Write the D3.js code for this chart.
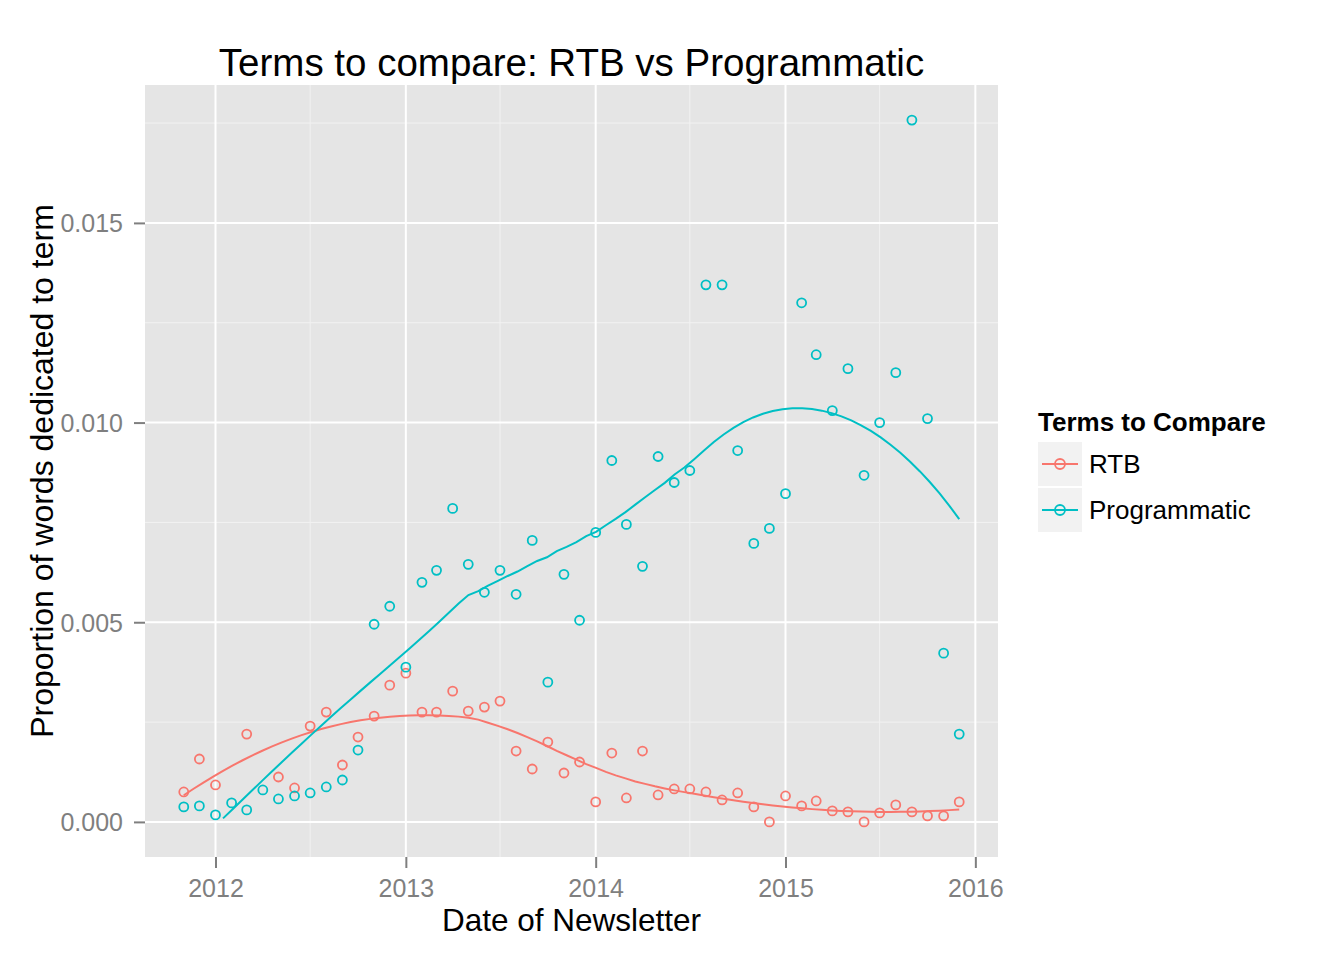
<!DOCTYPE html>
<html lang="en">
	<head>
		<meta charset="utf-8">
		<title>Terms to compare: RTB vs Programmatic</title>
		<script type="text/javascript" src="https://d3js.org/d3.v7.min.js"></script>
		<style type="text/css">
			body {
				margin: 0;
				background-color: #fff;
			}
			svg {
				font-family: "Liberation Sans", Arial, sans-serif;
			}
		</style>
	</head>
	<body>
		<script type="text/javascript">

			// monthly newsletter dates, Nov 2011 - Dec 2015
			var months = ["2011-11","2011-12","2012-01","2012-02","2012-03","2012-04","2012-05","2012-06","2012-07","2012-08","2012-09","2012-10",
				"2012-11","2012-12","2013-01","2013-02","2013-03","2013-04","2013-05","2013-06","2013-07","2013-08","2013-09","2013-10",
				"2013-11","2013-12","2014-01","2014-02","2014-03","2014-04","2014-05","2014-06","2014-07","2014-08","2014-09","2014-10",
				"2014-11","2014-12","2015-01","2015-02","2015-03","2015-04","2015-05","2015-06","2015-07","2015-08","2015-09","2015-10",
				"2015-11","2015-12"];

			var rtb = [0.00075,0.001575,0.000925,null,0.0022,null,0.001125,0.00085,0.0024,0.00275,0.001425,0.002125,
				0.00265,0.003425,0.003725,0.00275,0.00275,0.003275,0.002775,0.002875,0.003025,0.001775,0.001325,0.002,
				0.001225,0.0015,0.0005,0.001725,0.0006,0.001775,0.000675,0.000825,0.000825,0.00075,0.00055,0.000725,
				0.000375,0.0,0.00065,0.0004,0.000525,0.000275,0.00025,0.0,0.000225,0.000425,0.00025,0.00015,
				0.00015,0.0005];

			var programmatic = [0.000375,0.0004,0.000175,0.000475,0.0003,0.0008,0.000575,0.00065,0.000725,0.000875,0.00105,0.0018,
				0.00495,0.0054,0.003875,0.006,0.0063,0.00785,0.00645,0.00575,0.0063,0.0057,0.00705,0.0035,
				0.0062,0.00505,0.00725,0.00905,0.00745,0.0064,0.00915,0.0085,0.0088,0.01345,0.01345,0.0093,
				0.006975,0.00735,0.00822,0.013,0.0117,0.0103,0.01135,0.00868,0.01,0.01125,0.017575,0.0101,
				0.004225,0.0022];

			var seriesNames = ["RTB", "Programmatic"];
			var seriesColors = ["#F8766D", "#00BFC4"];
			var yTicks = [0, 0.005, 0.010, 0.015];
			var xTicks = ["2012", "2013", "2014", "2015", "2016"];

			var parseMonth = d3.timeParse("%Y-%m");

			var series = [rtb, programmatic].map(function(vals, k) {
				return {
					name: seriesNames[k],
					color: seriesColors[k],
					points: vals.map(function(v, i) {
						return { date: parseMonth(months[i]), value: v };
					}).filter(function(d) { return d.value !== null; })
				};
			});

			// loess (degree 2, span 0.75, tricube weights) like geom_smooth
			function loess(xs, ys, x0, span) {
				var n = xs.length;
				var q = Math.floor(n * span);
				var dists = xs.map(function(x) { return Math.abs(x - x0); });
				var dmax = dists.slice().sort(function(a, b) { return a - b; })[q - 1];
				var s = [0, 0, 0, 0, 0], t = [0, 0, 0];
				for (var i = 0; i < n; i++) {
					var u = dists[i] / dmax;
					if (u >= 1) continue;
					var w = Math.pow(1 - u * u * u, 3);
					var dx = xs[i] - x0;
					var p = 1;
					for (var k = 0; k < 5; k++) {
						s[k] += w * p;
						if (k < 3) t[k] += w * p * ys[i];
						p *= dx;
					}
				}
				// solve 3x3 normal equations, intercept is the fitted value
				var m = [[s[0], s[1], s[2], t[0]], [s[1], s[2], s[3], t[1]], [s[2], s[3], s[4], t[2]]];
				for (var c = 0; c < 3; c++) {
					for (var r = c + 1; r < 3; r++) {
						var f = m[r][c] / m[c][c];
						for (var j = c; j < 4; j++) m[r][j] -= f * m[c][j];
					}
				}
				var b = [0, 0, 0];
				for (var r2 = 2; r2 >= 0; r2--) {
					var acc = m[r2][3];
					for (var j2 = r2 + 1; j2 < 3; j2++) acc -= m[r2][j2] * b[j2];
					b[r2] = acc / m[r2][r2];
				}
				return b[0];
			}

			var svg = d3.select("body")
						.append("svg")
						.attr("width", 1344)
						.attr("height", 960);

			var panel = { left: 145, right: 998, top: 85, bottom: 857 };

			var allDates = series[0].points.concat(series[1].points).map(function(d) { return d.date; });
			var dExt = d3.extent(allDates);
			var dPad = (dExt[1] - dExt[0]) * 0.05;
			var x = d3.scaleTime()
						.domain([new Date(+dExt[0] - dPad), new Date(+dExt[1] + dPad)])
						.range([panel.left, panel.right]);

			var yMax = d3.max(series, function(s) { return d3.max(s.points, function(d) { return d.value; }); });
			var y = d3.scaleLinear()
						.domain([0 - yMax * 0.05, yMax * 1.05])
						.range([panel.bottom, panel.top]);

			// panel background and grid
			svg.append("rect")
				.attr("x", panel.left)
				.attr("y", panel.top)
				.attr("width", panel.right - panel.left)
				.attr("height", panel.bottom - panel.top)
				.attr("fill", "#E5E5E5");

			var grid = svg.append("g");
			var minorY = yTicks.map(function(t) { return t + 0.0025; }).filter(function(v) { return v < y.domain()[1]; });
			var xMajor = xTicks.map(function(t) { return d3.timeParse("%Y")(t); });
			var xMinor = xTicks.slice(0, -1).map(function(t) { return d3.timeParse("%Y-%m")(t + "-07"); });

			grid.selectAll(".ymin").data(minorY).enter().append("line")
				.attr("x1", panel.left).attr("x2", panel.right)
				.attr("y1", function(d) { return y(d); }).attr("y2", function(d) { return y(d); })
				.attr("stroke", "#F2F2F2").attr("stroke-width", 1);
			grid.selectAll(".xmin").data(xMinor).enter().append("line")
				.attr("y1", panel.top).attr("y2", panel.bottom)
				.attr("x1", function(d) { return x(d); }).attr("x2", function(d) { return x(d); })
				.attr("stroke", "#F2F2F2").attr("stroke-width", 1);
			grid.selectAll(".ymaj").data(yTicks).enter().append("line")
				.attr("x1", panel.left).attr("x2", panel.right)
				.attr("y1", function(d) { return y(d); }).attr("y2", function(d) { return y(d); })
				.attr("stroke", "#fff").attr("stroke-width", 2);
			grid.selectAll(".xmaj").data(xMajor).enter().append("line")
				.attr("y1", panel.top).attr("y2", panel.bottom)
				.attr("x1", function(d) { return x(d); }).attr("x2", function(d) { return x(d); })
				.attr("stroke", "#fff").attr("stroke-width", 2);

			// axes
			var xAxis = d3.axisBottom(x)
						.tickValues(xMajor)
						.tickFormat(d3.timeFormat("%Y"))
						.tickSize(11)
						.tickPadding(11);
			var yAxis = d3.axisLeft(y)
						.tickValues(yTicks)
						.tickFormat(d3.format(".3f"))
						.tickSize(11)
						.tickPadding(11);

			var gx = svg.append("g")
						.attr("transform", "translate(0," + panel.bottom + ")")
						.call(xAxis);
			var gy = svg.append("g")
						.attr("transform", "translate(" + panel.left + ",0)")
						.call(yAxis);

			[gx, gy].forEach(function(g) {
				g.select(".domain").remove();
				g.selectAll(".tick line").attr("stroke", "#7F7F7F").attr("stroke-width", 2);
				g.selectAll(".tick text")
					.attr("fill", "#7F7F7F")
					.style("font-size", "25px")
					.style("font-family", "'Liberation Sans', Arial, sans-serif");
			});
			gy.selectAll(".tick text").attr("dy", "0.36em");

			// smoothers
			var line = d3.line()
						.x(function(d) { return x(d.date); })
						.y(function(d) { return y(d.value); });

			series.forEach(function(s) {
				var xs = s.points.map(function(d) { return +d.date; });
				var ys = s.points.map(function(d) { return d.value; });
				var lo = d3.min(xs), hi = d3.max(xs);
				var fit = d3.range(80).map(function(i) {
					var xv = lo + (hi - lo) * i / 79;
					return { date: new Date(xv), value: loess(xs, ys, xv, 0.75) };
				}).filter(function(d) { return d.value >= 0; });

				svg.append("path")
					.datum(fit)
					.attr("d", line)
					.attr("fill", "none")
					.attr("stroke", s.color)
					.attr("stroke-width", 2);
			});

			// points
			series.forEach(function(s) {
				svg.append("g")
					.selectAll("circle")
					.data(s.points)
					.enter()
					.append("circle")
					.attr("cx", function(d) { return x(d.date); })
					.attr("cy", function(d) { return y(d.value); })
					.attr("r", 4.5)
					.attr("fill", "none")
					.attr("stroke", s.color)
					.attr("stroke-width", 1.8);
			});

			// titles
			svg.append("text")
				.attr("x", (panel.left + panel.right) / 2)
				.attr("y", 76)
				.attr("text-anchor", "middle")
				.style("font-size", "38.5px")
				.text("Terms to compare: RTB vs Programmatic");

			svg.append("text")
				.attr("x", (panel.left + panel.right) / 2)
				.attr("y", 931)
				.attr("text-anchor", "middle")
				.style("font-size", "31.5px")
				.text("Date of Newsletter");

			svg.append("text")
				.attr("transform", "translate(53," + (panel.top + panel.bottom) / 2 + ") rotate(-90)")
				.attr("text-anchor", "middle")
				.style("font-size", "32px")
				.text("Proportion of words dedicated to term");

			// legend
			var legend = svg.append("g").attr("transform", "translate(1038,0)");
			legend.append("text")
				.attr("x", 0)
				.attr("y", 431)
				.style("font-size", "26px")
				.style("font-weight", "bold")
				.text("Terms to Compare");

			var keys = legend.selectAll(".key")
						.data(series)
						.enter()
						.append("g")
						.attr("transform", function(d, i) { return "translate(0," + (442 + i * 46) + ")"; });
			keys.append("rect")
				.attr("width", 44)
				.attr("height", 44)
				.attr("fill", "#F2F2F2");
			keys.append("line")
				.attr("x1", 4).attr("x2", 40)
				.attr("y1", 22).attr("y2", 22)
				.attr("stroke", function(d) { return d.color; })
				.attr("stroke-width", 2);
			keys.append("circle")
				.attr("cx", 22).attr("cy", 22).attr("r", 5)
				.attr("fill", "none")
				.attr("stroke", function(d) { return d.color; })
				.attr("stroke-width", 1.8);
			keys.append("text")
				.attr("x", 51)
				.attr("y", 31)
				.style("font-size", "26px")
				.text(function(d) { return d.name; });

		</script>
	</body>
</html>
